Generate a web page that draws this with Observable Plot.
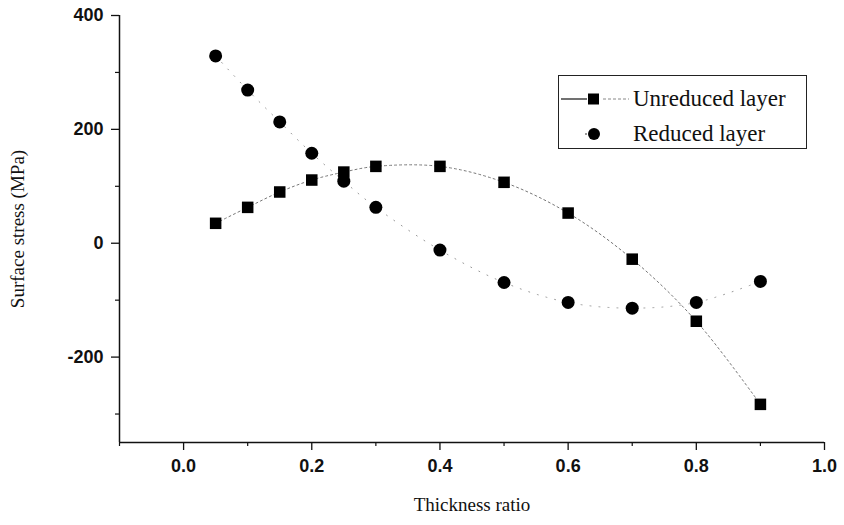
<!DOCTYPE html>
<html>
<head>
<meta charset="utf-8">
<script src="https://cdn.jsdelivr.net/npm/d3@7"></script>
<script src="https://cdn.jsdelivr.net/npm/@observablehq/plot@0.6"></script>
<style>
  html, body { margin: 0; padding: 0; background: #fff; }
  #wrap { position: relative; width: 844px; height: 525px; }
  #legend {
    position: absolute; left: 558px; top: 75px; width: 249px; height: 74px;
    border: 1px solid #222; box-sizing: border-box; background: #fff;
    font-family: "Liberation Serif", "Times New Roman", serif; font-size: 23px; color: #111;
  }
  #legend .row { position: absolute; left: 0; height: 30px; display: flex; align-items: center; }
  #legend svg { display: block; }
</style>
</head>
<body>
<div id="wrap"></div>
<script>
// ---- data ----
const thickness = [0.05, 0.1, 0.15, 0.2, 0.25, 0.3, 0.4, 0.5, 0.6, 0.7, 0.8, 0.9];
const unreduced = [35, 63, 90, 111, 125, 135, 135, 107, 53, -28, -137, -283];
const reduced   = [329, 269, 213, 158, 109, 63, -12, -69, -104, -114, -104, -67];
const seriesNames = ["Unreduced layer", "Reduced layer"];

const xDomain = [-0.1, 1.0];
const yDomain = [-350, 400];
const xTicks = [0.0, 0.2, 0.4, 0.6, 0.8, 1.0];
const xMinor = [-0.1, 0.1, 0.3, 0.5, 0.7, 0.9];
const yTicks = [-200, 0, 200, 400];
const yMinor = [-300, -100, 100, 300];
const xTitle = "Thickness ratio";
const yTitle = "Surface stress (MPa)";

const rowsU = thickness.map((t, i) => ({x: t, y: unreduced[i]}));
const rowsR = thickness.map((t, i) => ({x: t, y: reduced[i]}));

const tickFont = {fontFamily: "Liberation Sans, Arial, sans-serif", fontSize: 18, fontWeight: "bold", fill: "#111"};
const titleFont = {fontFamily: "Liberation Serif, Times New Roman, serif", fontSize: 19, fill: "#111"};

const chart = Plot.plot({
  width: 844,
  height: 525,
  marginLeft: 119,
  marginRight: 20,
  marginTop: 15,
  marginBottom: 83,
  style: {background: "#fff", color: "#111", overflow: "visible"},
  x: {domain: xDomain, axis: null},
  y: {domain: yDomain, axis: null},
  marks: [
    // dotted connecting curves
    Plot.line(rowsR, {x: "x", y: "y", curve: "catmull-rom", stroke: "#999", strokeWidth: 1, strokeDasharray: "1,8"}),
    Plot.line(rowsU, {x: "x", y: "y", curve: "catmull-rom", stroke: "#777", strokeWidth: 1, strokeDasharray: "2,3"}),
    // markers
    Plot.dot(rowsR, {x: "x", y: "y", symbol: "circle", r: 6.5, fill: "#000", stroke: "none"}),
    Plot.dot(rowsU, {x: "x", y: "y", symbol: "square", r: 6.5, fill: "#000", stroke: "none"}),
    // axis lines
    Plot.ruleX([xDomain[0]], {stroke: "#111", strokeWidth: 1.5}),
    Plot.ruleY([yDomain[0]], {stroke: "#111", strokeWidth: 1.5}),
    // axes
    Plot.axisX(xTicks, {label: null, tickSize: 8, tickPadding: 9, tickFormat: d3.format(".1f"), strokeWidth: 1.3, ...tickFont}),
    Plot.axisX(xMinor, {label: null, tickSize: 4, tickFormat: () => "", strokeWidth: 1.2}),
    Plot.axisY(yTicks, {label: null, tickSize: 8, tickPadding: 8, tickFormat: d => String(d), strokeWidth: 1.3, ...tickFont}),
    Plot.axisY(yMinor, {label: null, tickSize: 4, tickFormat: () => "", strokeWidth: 1.2}),
    // axis titles
    Plot.text([xTitle], {frameAnchor: "bottom", dy: 68, textAnchor: "middle", ...titleFont}),
    Plot.text([yTitle], {frameAnchor: "left", dx: -102, rotate: -90, textAnchor: "middle", ...titleFont})
  ]
});

const wrap = document.getElementById("wrap");
wrap.appendChild(chart);

// legend
const legend = document.createElement("div");
legend.id = "legend";
legend.innerHTML = `
  <div class="row" style="top:8px">
    <svg width="72" height="30">
      <line x1="2" y1="15" x2="28" y2="15" stroke="#111" stroke-width="1.2"/>
      <rect x="29" y="9.5" width="11" height="11" fill="#000"/>
      <line x1="44" y1="15" x2="70" y2="15" stroke="#888" stroke-width="1" stroke-dasharray="3,2"/>
    </svg>
    <span style="margin-left:2px">${seriesNames[0]}</span>
  </div>
  <div class="row" style="top:43px">
    <svg width="72" height="30">
      <circle cx="27" cy="15" r="1" fill="#777"/>
      <circle cx="35" cy="15" r="6" fill="#000"/>
    </svg>
    <span style="margin-left:2px">${seriesNames[1]}</span>
  </div>`;
wrap.appendChild(legend);
</script>
</body>
</html>
